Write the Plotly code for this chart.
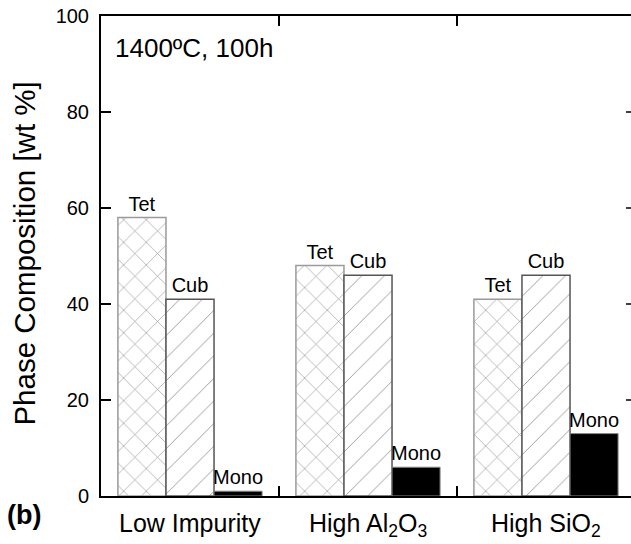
import plotly.graph_objects as go

categories = ["Low Impurity", "High Al<sub>2</sub>O<sub>3</sub>", "High SiO<sub>2</sub>"]
positions = [1, 2, 3]
tet = [58, 48, 41]
cub = [41, 46, 46]
mono = [1, 6, 13]
phase_labels = ["Tet", "Cub", "Mono"]
yticks = [0, 20, 40, 60, 80, 100]
boundaries = [1.5, 2.5]

FONT = "Liberation Sans, Arial, sans-serif"
W, H = 631, 544
ML, MT, MB = 101, 16, 48
plot_w = W - ML
unit_px = 178.0  # pixels per category
xmax = 0.5 + plot_w / unit_px
YMAX = 100

fig = go.Figure()

fig.add_trace(go.Bar(
    x=positions, y=tet, name="Tet",
    text=[phase_labels[0]] * 3, textposition="outside",
    textfont=dict(size=20, color="black", family=FONT),
    constraintext="none", cliponaxis=False,
    marker=dict(color="white",
                line=dict(color="#9a9a9a", width=1.5),
                pattern=dict(shape="x", size=16, solidity=0.07,
                             fgcolor="#111111", bgcolor="white", fillmode="overlay")),
))
fig.add_trace(go.Bar(
    x=positions, y=cub, name="Cub",
    text=[phase_labels[1]] * 3, textposition="outside",
    textfont=dict(size=20, color="black", family=FONT),
    constraintext="none", cliponaxis=False,
    marker=dict(color="white",
                line=dict(color="#555555", width=1.5),
                pattern=dict(shape="/", size=16, solidity=0.05,
                             fgcolor="#111111", bgcolor="white", fillmode="overlay")),
))
fig.add_trace(go.Bar(
    x=positions, y=mono, name="Mono",
    text=[phase_labels[2]] * 3, textposition="outside",
    textfont=dict(size=20, color="black", family=FONT),
    constraintext="none", cliponaxis=False,
    marker=dict(color="black", line=dict(color="#888888", width=1)),
))

fig.update_layout(
    width=W, height=H,
    margin=dict(l=ML, r=0, t=MT, b=MB, pad=0),
    paper_bgcolor="white", plot_bgcolor="white",
    barmode="group", bargap=0.19, bargroupgap=0,
    showlegend=False,
    font=dict(family=FONT, color="black"),
)

fig.update_xaxes(
    type="linear",
    range=[0.5, xmax], tickmode="array", tickvals=boundaries,
    showticklabels=False,
    ticks="inside", ticklen=10, tickwidth=1.5, tickcolor="black",
    showline=True, linewidth=2, linecolor="black", mirror="ticks",
    showgrid=False, zeroline=False, fixedrange=True,
)
fig.update_yaxes(
    range=[0, YMAX], tickmode="array", tickvals=yticks,
    ticks="inside", ticklen=10, tickwidth=1.5, tickcolor="black",
    tickfont=dict(size=20, family=FONT, color="black"),
    ticklabelstandoff=6,
    showline=True, linewidth=2, linecolor="black", mirror=False,
    showgrid=False, zeroline=False, fixedrange=True,
)

# partial mirrored y ticks at the right edge (axis lies just beyond the crop)
for t in yticks[1:-1]:
    fig.add_shape(type="line", xref="paper", yref="y",
                  xsizemode="pixel", xanchor=1, x0=-5, x1=0,
                  y0=t, y1=t, line=dict(color="black", width=1.5),
                  layer="above")

# category labels
for xv, lab in zip(positions, categories):
    fig.add_annotation(x=xv, xref="x", y=-0.022, yref="paper", text=lab,
                       showarrow=False, xanchor="center", yanchor="top",
                       font=dict(size=25, family=FONT, color="black"))

# y axis title
fig.add_annotation(x=(25 - ML) / plot_w, xref="paper", y=0.505, yref="paper",
                   text="Phase Composition [wt %]", textangle=-90,
                   showarrow=False, xanchor="center", yanchor="middle",
                   font=dict(size=29.5, family=FONT, color="black"))

# condition label
fig.add_annotation(x=(113 - ML) / plot_w, xref="paper", y=93.3, yref="y",
                   text="1400ºC, 100h", showarrow=False,
                   xanchor="left", yanchor="middle",
                   font=dict(size=26, family=FONT, color="black"))

# panel label
fig.add_annotation(x=(5 - ML) / plot_w, xref="paper", y=-0.04, yref="paper",
                   text="<b>(b)</b>", showarrow=False,
                   xanchor="left", yanchor="middle",
                   font=dict(size=27, family=FONT, color="black"))

fig.write_html("out.html")
